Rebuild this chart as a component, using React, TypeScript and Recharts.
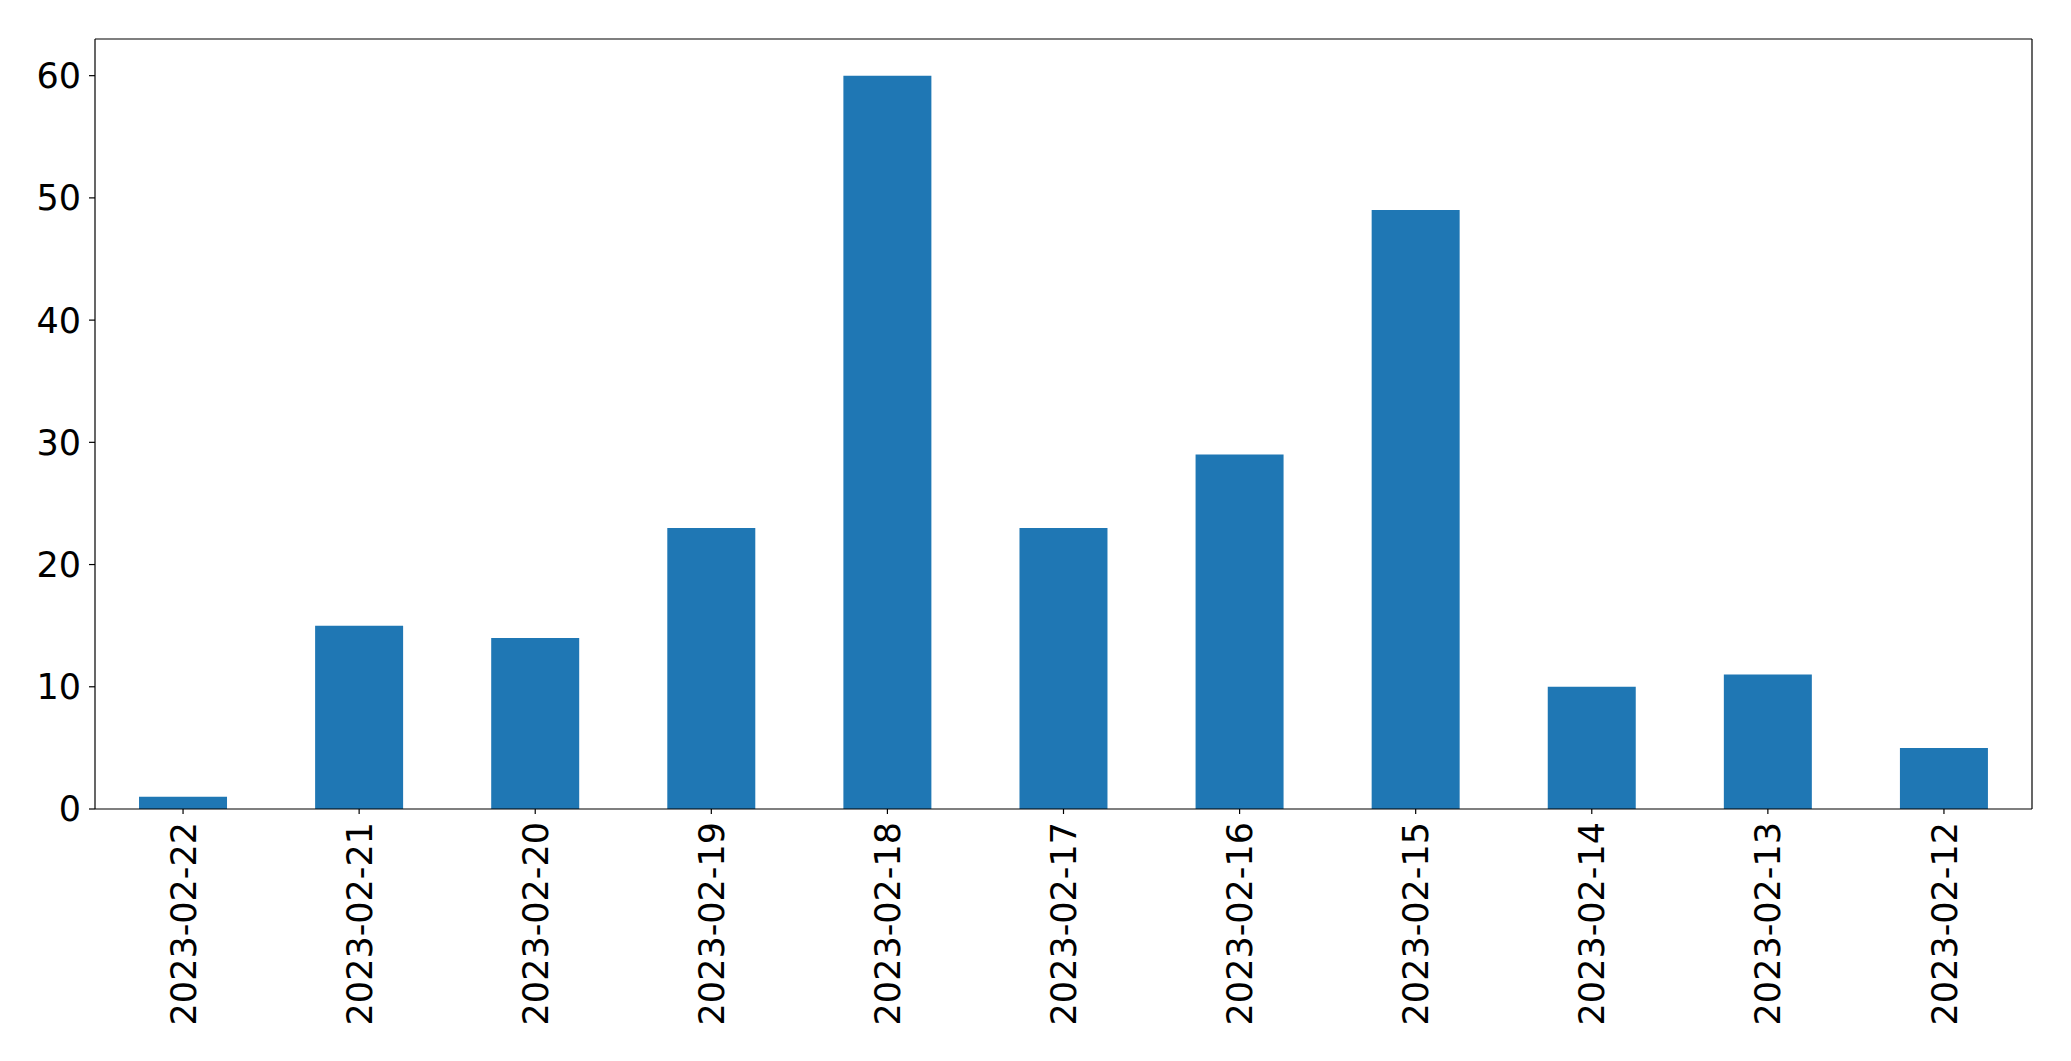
import React from "react";
import { BarChart, Bar, XAxis, YAxis, CartesianGrid } from "recharts";

const categories = [
  "2023-02-22", "2023-02-21", "2023-02-20", "2023-02-19", "2023-02-18", "2023-02-17",
  "2023-02-16", "2023-02-15", "2023-02-14", "2023-02-13", "2023-02-12",
];
const counts = [1, 15, 14, 23, 60, 23, 29, 49, 10, 11, 5];
const yTicks = [0, 10, 20, 30, 40, 50, 60];

const data = categories.map((date, i) => ({ date, count: counts[i] }));

const FONT = "DejaVu Sans";
const FS = 35;

const XTick = (props: any) => {
  const { x, y, payload } = props;
  return (
    <g transform={`translate(${x},${y})`}>
      <text
        transform="rotate(-90)"
        textAnchor="end"
        dy="0.36em"
        x={0}
        y={0}
        fontFamily={FONT}
        fontSize={FS}
        fill="#000"
      >
        {payload.value}
      </text>
    </g>
  );
};

const topLine = (p: any) => [p.offset.top];
const rightLine = (p: any) => [p.offset.left + p.offset.width];

export default function App() {
  return (
    <div style={{ position: "absolute", left: 0, top: 0, background: "#fff" }}>
      <BarChart
        width={2071}
        height={1061}
        data={data}
        margin={{ top: 39, right: 39, bottom: 0, left: 0 }}
        barCategoryGap="25%"
      >
        <CartesianGrid
          stroke="#000"
          strokeWidth={1.2}
          horizontalCoordinatesGenerator={topLine}
          verticalCoordinatesGenerator={rightLine}
        />
        <XAxis
          dataKey="date"
          interval={0}
          height={252}
          tickSize={5}
          tickMargin={8}
          tick={<XTick />}
          axisLine={{ stroke: "#000", strokeWidth: 1.2 }}
          tickLine={{ stroke: "#000", strokeWidth: 1.2 }}
        />
        <YAxis
          width={95}
          domain={[0, 63]}
          ticks={yTicks}
          interval={0}
          tickSize={6}
          tickMargin={8}
          allowDataOverflow
          tick={{ fontFamily: FONT, fontSize: FS, fill: "#000" }}
          axisLine={{ stroke: "#000", strokeWidth: 1.2 }}
          tickLine={{ stroke: "#000", strokeWidth: 1.2 }}
        />
        <Bar dataKey="count" fill="#1f77b4" isAnimationActive={false} />
      </BarChart>
    </div>
  );
}
